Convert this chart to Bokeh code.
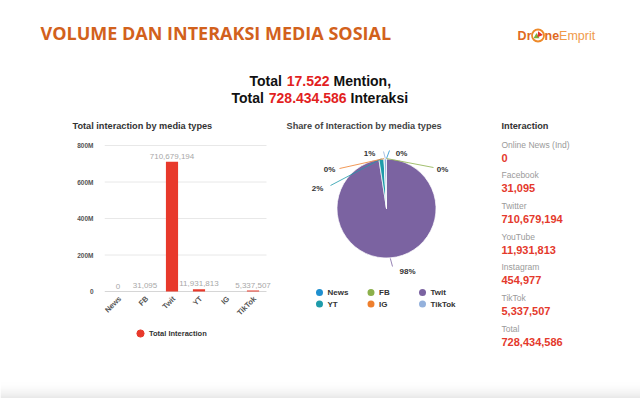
import math
import numpy as np
from bokeh.plotting import figure
from bokeh.models import (Range1d, FixedTicker, Legend, LegendItem,
                          ColumnDataSource, LabelSet)
from bokeh.layouts import column, row
from bokeh.core.properties import value
from bokeh.embed import file_html
from bokeh.resources import INLINE

# ---------------- data ----------------
categories = ["News", "FB", "Twit", "YT", "IG", "TikTok"]
interactions = [0, 31095, 710679194, 11931813, 454977, 5337507]
total_interaction = 728434586
total_mention = 17522
panel_labels = ["Online News (Ind)", "Facebook", "Twitter", "YouTube", "Instagram", "TikTok", "Total"]
panel_values = interactions + [total_interaction]
y_ticks = [0, 200000000, 400000000, 600000000, 800000000]
y_tick_labels = ["0", "200M", "400M", "600M", "800M"]
hidden_bar_labels = ["IG"]  # data label not shown in the source chart (overlap)
slice_colors = ["#1f8fcf", "#8cb04b", "#7b63a1", "#1e9baa", "#ee7f2d", "#94b1dc"]

# ---------------- style ----------------
FONT = "Liberation Sans"
ORANGE = "#d2611c"
RED = "#e4392c"
BAR = "#e8392b"
PAGE_W, PAGE_H = 640, 398
ROW_TOP, ROW_BOTTOM = 136, 380


def Y(py):
    return PAGE_H - py


def base_fig(w, h, x0, x1, py_top, py_bottom):
    f = figure(width=w, height=h, x_range=Range1d(x0, x1),
               y_range=Range1d(Y(py_bottom), Y(py_top)),
               x_axis_type=None, y_axis_type=None, output_backend="svg",
               toolbar_location=None, min_border=0)
    f.outline_line_color = None
    f.background_fill_color = "white"
    f.border_fill_color = "white"
    return f


def txt(f, x, py, s, size, color, bold=False, align="left", font=FONT):
    f.text(x=[x], y=[Y(py)], text=[s], text_font=value(font),
           text_font_size=value(f"{size}px"), text_color=color,
           text_font_style="bold" if bold else "normal",
           text_align=align, text_baseline="middle")


# ---------------- header ----------------
head = base_fig(PAGE_W, ROW_TOP, 0, PAGE_W, 0, ROW_TOP)
txt(head, 40, 32, "VOLUME DAN INTERAKSI MEDIA SOSIAL", 18, ORANGE, bold=True, font="Open Sans")

# logo
txt(head, 531, 35, "Dr", 12.5, "#e06a1e", bold=True, align="right")
head.scatter(x=[537.5], y=[Y(35)], marker="circle", size=12, fill_color=None,
             line_color="#ee8a2a", line_width=1.8)
head.scatter(x=[536], y=[Y(36)], marker="triangle", size=6, fill_color="#7bb33a", line_color=None)
head.scatter(x=[539], y=[Y(34)], marker="triangle", size=6, fill_color="#e2332a",
             line_color=None, angle=2.5)
txt(head, 544, 35, "ne", 12.5, "#e06a1e", bold=True)
txt(head, 558.6, 35, "Emprit", 12.5, "#f09a4a")

# subtitle
mention_txt = f"{total_mention:,}".replace(",", ".")
inter_txt = f"{total_interaction:,}".replace(",", ".")
txt(head, 249, 80, "Total", 14, "#111111", bold=True)
txt(head, 286.3, 80, mention_txt, 14, "#e21f1f", bold=True)
txt(head, 333, 80, "Mention,", 14, "#111111", bold=True)
txt(head, 231, 97, "Total", 14, "#111111", bold=True)
txt(head, 268.3, 97, inter_txt, 14, "#e21f1f", bold=True)
txt(head, 350, 97, "Interaksi", 14, "#111111", bold=True)

# panel titles
txt(head, 72, 125, "Total interaction by media types", 9.2, "#333333", bold=True)
txt(head, 286, 125, "Share of Interaction by media types", 9.2, "#444444", bold=True)
txt(head, 501, 125, "Interaction", 9.2, "#333333", bold=True)

# ---------------- bar chart ----------------
# frame spans the whole row height; value 0 sits at page y 291, 800M at page y 145
ZERO_PY, TOP_PY = 291, 145
per_px = 800000000 / (ZERO_PY - TOP_PY)
y_lo = -(ROW_BOTTOM - ZERO_PY) * per_px
y_hi = 800000000 + (TOP_PY - ROW_TOP) * per_px
FRAME_L, CAT_W, BAR_FIG_W = 104, 27.0, 280
FRAME_R = 273
xs = list(range(len(categories)))
x_hi = -0.5 + (FRAME_R - FRAME_L) / CAT_W
bar = figure(width=BAR_FIG_W, height=ROW_BOTTOM - ROW_TOP, x_range=Range1d(-0.5, x_hi),
             y_range=Range1d(y_lo, y_hi), x_axis_location=None,
             output_backend="svg", toolbar_location=None,
             min_border_left=FRAME_L, min_border_right=BAR_FIG_W - FRAME_R,
             min_border_top=0, min_border_bottom=0)
bar.outline_line_color = None
bar.background_fill_color = "white"
bar.border_fill_color = "white"
bar.grid.grid_line_color = None
bar.yaxis.ticker = FixedTicker(ticks=y_ticks)
bar.yaxis.major_label_overrides = {t: l for t, l in zip(y_ticks, y_tick_labels)}
bar.yaxis.axis_line_color = None
bar.yaxis.major_tick_line_color = None
bar.yaxis.minor_tick_line_color = None
bar.yaxis.major_tick_out = 0
bar.yaxis.major_tick_in = 0
bar.yaxis.minor_tick_out = 0
bar.yaxis.major_label_standoff = 11
bar.yaxis.major_label_text_font = FONT
bar.yaxis.major_label_text_font_size = "6.5px"
bar.yaxis.major_label_text_font_style = "bold"
bar.yaxis.major_label_text_color = "#555555"

# grid lines across the category band only
n_cat = len(categories)
bar.segment(x0=[-0.5] * len(y_ticks), x1=[n_cat - 0.5] * len(y_ticks), y0=y_ticks, y1=y_ticks,
            line_color=["#d6d6d6"] + ["#e8e8e8"] * (len(y_ticks) - 1), line_width=1)

bar.vbar(x=xs, top=interactions, width=0.45, fill_color=BAR, line_color=None)
bar_labels = ["" if c in hidden_bar_labels else f"{v:,}" for c, v in zip(categories, interactions)]
src = ColumnDataSource(dict(x=xs, val=interactions, label=bar_labels))
bar.add_layout(LabelSet(x="x", y="val", text="label", source=src, y_offset=3,
                        text_align="center", text_baseline="bottom", text_font=value(FONT),
                        text_font_size=value("8px"), text_color="#a8a8a8"))
# category labels, rotated like the source axis
bar.text(x=xs, y=[0] * n_cat, text=categories, angle=math.pi / 4,
         x_offset=2, y_offset=6, text_align="right", text_baseline="middle",
         text_font=value(FONT), text_font_size=value("7.5px"), text_font_style="bold",
         text_color="#555555")

proxy = bar.scatter(x=[0], y=[float("nan")], marker="circle", size=8,
                    fill_color=BAR, line_color=BAR)
leg = Legend(items=[LegendItem(label="Total Interaction", renderers=[proxy])],
             location=(27, ROW_BOTTOM - 342), orientation="horizontal",
             glyph_width=18, glyph_height=18,
             label_standoff=0, padding=0, margin=0, spacing=0, border_line_color=None,
             background_fill_alpha=0, label_text_font=FONT, label_text_font_size="7.5px",
             label_text_font_style="bold", label_text_color="#333333", label_height=18)
bar.add_layout(leg)

# ---------------- pie chart ----------------
pie = base_fig(212, ROW_BOTTOM - ROW_TOP, 280, 492, ROW_TOP, ROW_BOTTOM)
cx, cy, r = 386, Y(208), 49.5
total = float(sum(interactions))
fracs = np.array(interactions, dtype=float) / total
cum = np.concatenate([[0.0], np.cumsum(fracs)])
starts = np.pi / 2 - cum[:-1] * 2 * np.pi
ends = np.pi / 2 - cum[1:] * 2 * np.pi
mids = (starts + ends) / 2
nz = fracs > 0
pie.wedge(x=cx, y=cy, radius=r, start_angle=list(starts[nz]), end_angle=list(ends[nz]),
          direction="clock", fill_color=[c for c, k in zip(slice_colors, nz) if k],
          line_color="white", line_width=0.7)

pct_labels = [f"{round(v / total * 100)}%" for v in interactions]
# label anchor (page px) and leader-line end for each slice
label_pos = [(401, 153), (442, 169), (407, 271), (317, 188), (329, 169), (369, 153)]
line_end = [(389, 150), (433, 167), (392, 266), (330, 185), (339, 168), (383, 151)]
x0 = [cx + (r + 0.5) * math.cos(a) for a in mids]
y0 = [cy + (r + 0.5) * math.sin(a) for a in mids]
pie.segment(x0=x0, y0=y0, x1=[p[0] for p in line_end], y1=[Y(p[1]) for p in line_end],
            line_color=slice_colors, line_width=0.8)
pie.text(x=[p[0] for p in label_pos], y=[Y(p[1]) for p in label_pos], text=pct_labels,
         text_align="center", text_baseline="middle", text_font=value(FONT),
         text_font_size=value("8px"), text_font_style="bold", text_color="#333333")

# legend grid (3 columns)
lx = [319 + 51.5 * (i % 3) for i in range(len(categories))]
ly = [292 + 11.5 * (i // 3) for i in range(len(categories))]
pie.scatter(x=lx, y=[Y(v) for v in ly], marker="circle", size=7, fill_color=slice_colors,
            line_color=None)
pie.text(x=[v + 8 for v in lx], y=[Y(v) for v in ly], text=categories, text_align="left",
         text_baseline="middle", text_font=value(FONT), text_font_size=value("8px"),
         text_font_style="bold", text_color="#333333")

# ---------------- right panel ----------------
side = base_fig(PAGE_W - 492, ROW_BOTTOM - ROW_TOP, 492, PAGE_W, ROW_TOP, ROW_BOTTOM)
step = 30.67
side.text(x=[501] * len(panel_labels), y=[Y(144 + i * step) for i in range(len(panel_labels))],
          text=panel_labels, text_align="left", text_baseline="middle", text_font=value(FONT),
          text_font_size=value("8.5px"), text_color="#9a9a9a")
side.text(x=[501] * len(panel_values), y=[Y(157 + i * step) for i in range(len(panel_values))],
          text=[f"{v:,}" for v in panel_values], text_align="left", text_baseline="middle",
          text_font=value(FONT), text_font_size=value("11px"), text_font_style="bold",
          text_color=RED)

# ---------------- footer shade ----------------
foot = base_fig(PAGE_W, PAGE_H - ROW_BOTTOM, 0, PAGE_W, ROW_BOTTOM, PAGE_H)
n_strips = PAGE_H - ROW_BOTTOM
shade = [int(round(255 - 32 * ((i + 0.5) / n_strips) ** 2)) for i in range(n_strips)]
foot.quad(left=0, right=PAGE_W, top=[Y(ROW_BOTTOM + i) for i in range(n_strips)],
          bottom=[Y(ROW_BOTTOM + i + 1) for i in range(n_strips)],
          fill_color=[f"#{g:02x}{g:02x}{g:02x}" for g in shade], line_color=None)

layout = column(head, row(bar, pie, side, spacing=0), foot, spacing=0)

with open("out.html", "w") as fh:
    fh.write(file_html(layout, INLINE))
